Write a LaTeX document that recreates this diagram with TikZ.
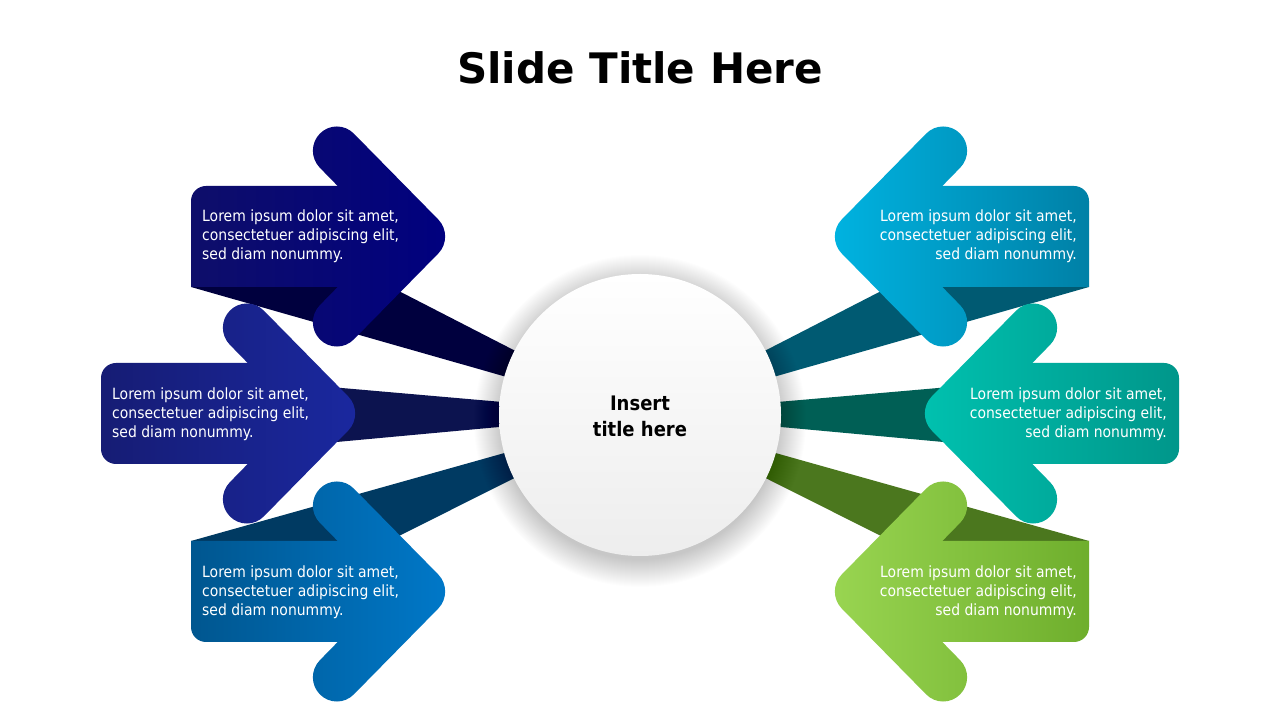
\documentclass[tikz,border=0pt]{standalone}
\usepackage{fontspec}
\setmainfont{DejaVu Sans}
\newfontfamily\bodyfont{DejaVu Sans}[FakeStretch=0.9]
\definecolor{tlA}{HTML}{0E0E6A}\definecolor{tlB}{HTML}{00007F}\definecolor{tlR}{HTML}{00003E}
\definecolor{mlA}{HTML}{161C74}\definecolor{mlB}{HTML}{1A28A0}\definecolor{mlR}{HTML}{0C134F}
\definecolor{blA}{HTML}{00568F}\definecolor{blB}{HTML}{0079CA}\definecolor{blR}{HTML}{003A62}
\definecolor{trA}{HTML}{0080A6}\definecolor{trB}{HTML}{00B4E2}\definecolor{trR}{HTML}{005A72}
\definecolor{mrA}{HTML}{00968A}\definecolor{mrB}{HTML}{00C2B0}\definecolor{mrR}{HTML}{005F55}
\definecolor{brA}{HTML}{6EAE2C}\definecolor{brB}{HTML}{9AD652}\definecolor{brR}{HTML}{4B771E}
% #1 box outer x, #2 centre y, #3 corner type, #4 left colour, #5 right colour
\newcommand\arrowfig[5]{%
  \begin{scope}
    \ifcase#3\or
      \clip (#1+210,#2+50.5) -- (#1+15,#2+50.5) arc[start angle=90,end angle=180,radius=15pt] -- (#1,#2-50.5) -- (#1+210,#2-50.5) -- cycle;
    \or
      \clip (#1+210,#2+50.5) -- (#1+15,#2+50.5) arc[start angle=90,end angle=180,radius=15pt] -- (#1,#2-35.5) arc[start angle=180,end angle=270,radius=15pt] -- (#1+210,#2-50.5) -- cycle;
    \or
      \clip (#1+210,#2+50.5) -- (#1,#2+50.5) -- (#1,#2-35.5) arc[start angle=180,end angle=270,radius=15pt] -- (#1+210,#2-50.5) -- cycle;
    \fi
    \shade[left color=#4,right color=#5] (#1-2,#2-130) rectangle (#1+264,#2+130);
  \end{scope}
  \begin{scope}
    \clip[rounded corners=24pt] (#1+146,#2+120) -- (#1+264,#2) -- (#1+146,#2-120) -- (#1+112,#2-86) -- (#1+196,#2) -- (#1+112,#2+86) -- cycle;
    \shade[left color=#4,right color=#5] (#1-2,#2-130) rectangle (#1+264,#2+130);
  \end{scope}}
\tikzset{
  bodytext/.style={text=white, inner sep=0pt, font=\bodyfont\fontsize{15.5}{19}\selectfont},
  lefttext/.style={bodytext, anchor=west, align=left},
  righttext/.style={bodytext, anchor=east, align=right},
}
\begin{document}
\begin{tikzpicture}[x=1pt,y=1pt]
\useasboundingbox (0,0) rectangle (1280,720);
\fill[white] (0,0) rectangle (1280,720);
% rays
\fill[tlR] (191,433) -- (391,433) -- (640,305) -- cycle;
\fill[mlR] (250,340) -- (250,270) -- (640,306) -- cycle;
\fill[blR] (191,179) -- (389,179) -- (640,305) -- cycle;
\fill[trR] (1089,433) -- (889,433) -- (640,305) -- cycle;
\fill[mrR] (1030,340) -- (1030,270) -- (640,306) -- cycle;
\fill[brR] (1089,179) -- (891,179) -- (640,305) -- cycle;
% circle shadow
\foreach \k in {1,...,28}{\fill[black,opacity=0.009] (640,299) circle[radius=138+\k];}
\shade[shading angle=45, top color=white, bottom color=black!7] (640,305) circle[radius=141];
% arrows
\arrowfig{191}{483.5}{1}{tlA}{tlB}
\arrowfig{101}{306.5}{2}{mlA}{mlB}
\arrowfig{191}{128.5}{3}{blA}{blB}
\begin{scope}[xshift=1280pt,xscale=-1]
\arrowfig{191}{483.5}{1}{trB}{trA}
\arrowfig{101}{306.5}{2}{mrB}{mrA}
\arrowfig{191}{128.5}{3}{brB}{brA}
\end{scope}
% texts
\node[font=\fontsize{42}{50}\selectfont\bfseries] (title) at (640,652) {Slide Title Here};
\node[align=center, font=\bodyfont\bfseries\fontsize{20}{26}\selectfont] (centre) at (640,304) {Insert\\title here};
\node[lefttext] (t1) at (202,483.5) {Lorem ipsum dolor sit amet,\\consectetuer adipiscing elit,\\sed diam nonummy.};
\node[lefttext] (t2) at (112,305.5) {Lorem ipsum dolor sit amet,\\consectetuer adipiscing elit,\\sed diam nonummy.};
\node[lefttext] (t3) at (202,127.5) {Lorem ipsum dolor sit amet,\\consectetuer adipiscing elit,\\sed diam nonummy.};
\node[righttext] (t4) at (1077,483.5) {Lorem ipsum dolor sit amet,\\consectetuer adipiscing elit,\\sed diam nonummy.};
\node[righttext] (t5) at (1167,305.5) {Lorem ipsum dolor sit amet,\\consectetuer adipiscing elit,\\sed diam nonummy.};
\node[righttext] (t6) at (1077,127.5) {Lorem ipsum dolor sit amet,\\consectetuer adipiscing elit,\\sed diam nonummy.};
\end{tikzpicture}
\end{document}
